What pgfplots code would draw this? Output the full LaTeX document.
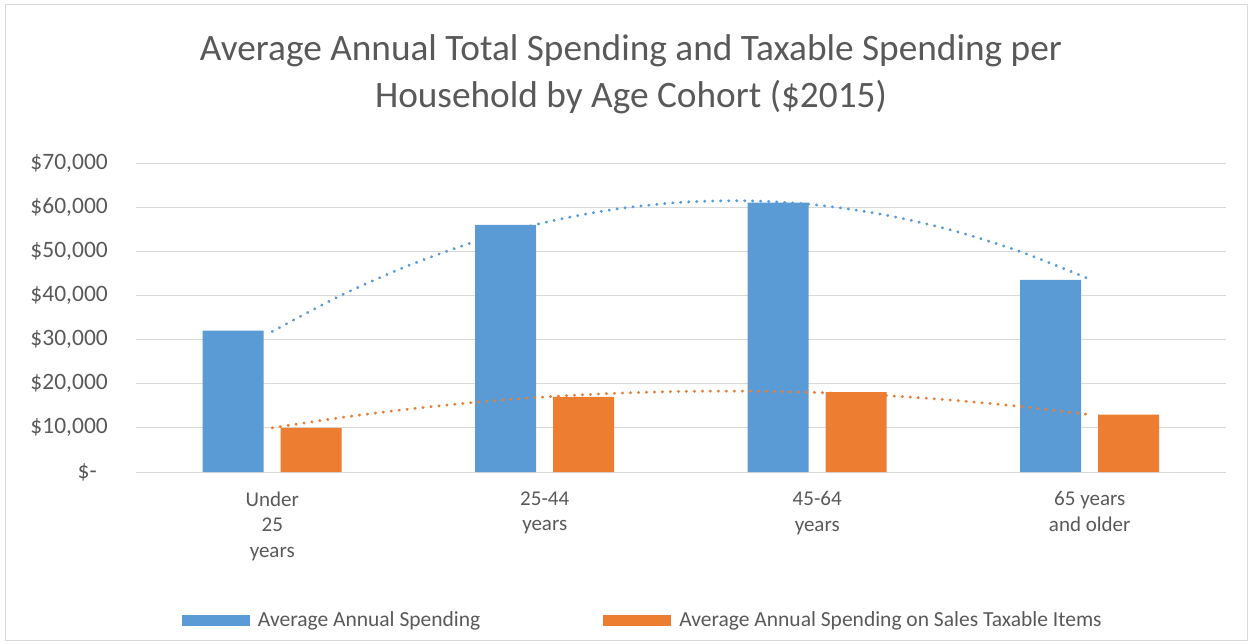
\documentclass[border=0pt]{standalone}
\usepackage{fontspec}
\setmainfont{Carlito}
\usepackage{pgfplots}
\pgfplotsset{compat=1.18}
\definecolor{barblue}{HTML}{5B9BD5}
\definecolor{barorange}{HTML}{ED7D31}
\definecolor{gridgray}{HTML}{D9D9D9}
\definecolor{textgray}{HTML}{595959}
\pgfplotsset{swatch/.style={legend image code/.code={\fill[##1] (0pt,-5.5pt) rectangle (68pt,5.5pt); \path (74pt,0pt);}}}

\begin{document}
\begin{tikzpicture}
\begin{axis}[
    at={(0pt,0pt)}, anchor=south west,
    scale only axis, width=1090pt, height=309pt,
    ybar=17pt, bar width=61pt,
    xmin=0.5, xmax=4.5, ymin=0, ymax=70000,
    xtick={1,2,3,4},
    xticklabels={{Under\\25\\years},{25-44\\years},{45-64\\years},{65 years\\and older}},
    ytick={0,10000,20000,30000,40000,50000,60000,70000},
    yticklabels={{\$-\hspace*{11pt}},{\$10,000},{\$20,000},{\$30,000},{\$40,000},{\$50,000},{\$60,000},{\$70,000}},
    scaled y ticks=false,
    axis line style={draw=none},
    tick style={draw=none},
    ymajorgrids, grid style={gridgray, line width=1pt},
    xticklabel style={font=\fontsize{21}{25.6}\selectfont, text=textgray,
        align=center, anchor=north, inner sep=0pt, yshift=-15pt},
    yticklabel style={font=\fontsize{23.5}{28}\selectfont, text=textgray,
        anchor=east, inner sep=0pt, xshift=-28pt},
    legend columns=2,
    legend style={at={(0.465,-0.479)}, anchor=center, draw=none,
        font=\fontsize{21.5}{26}\selectfont, text=textgray,
        /tikz/every even column/.append style={column sep=121pt}},
]
% average annual spending
\addplot[fill=barblue, draw=none, swatch]
    coordinates {(1,32000) (2,56000) (3,61000) (4,43500)};
% spending on sales taxable items
\addplot[fill=barorange, draw=none, swatch]
    coordinates {(1,10000) (2,17000) (3,18100) (4,13000)};
% trendlines (poly, order 2)
\addplot[forget plot, smooth, draw=barblue, line width=3pt, line cap=round, dash pattern=on 0.3pt off 7.7pt]
    coordinates {(1,31825) (1.25,39945) (1.5,46769) (1.75,52296) (2,56525) (2.25,59458) (2.5,61094)
    (2.75,61433) (3,60475) (3.25,58221) (3.5,54669) (3.75,49820) (4,43675)};
\addplot[forget plot, smooth, draw=barorange, line width=3pt, line cap=round, dash pattern=on 0.3pt off 7.7pt]
    coordinates {(1,10000) (1.25,12312) (1.5,14250) (1.75,15812) (2,17000) (2.25,17812) (2.5,18250)
    (2.75,18312) (3,18000) (3.25,17312) (3.5,16250) (3.75,14812) (4,13000)};
\legend{Average Annual Spending, Average Annual Spending on Sales Taxable Items}
\end{axis}
\node[anchor=base, font=\fontsize{37.3}{44}\selectfont, text=textgray] at (495pt,411pt)
    {Average Annual Total Spending and Taxable Spending per};
\node[anchor=base, font=\fontsize{37.3}{44}\selectfont, text=textgray] at (495pt,364pt)
    {Household by Age Cohort (\$2015)};
\draw[gridgray, line width=1pt] (-130pt,-168pt) rectangle (1111pt,467pt);
\pgfresetboundingbox
\path (-136pt,-171pt) rectangle (1114pt,472pt);
\end{tikzpicture}
\end{document}
